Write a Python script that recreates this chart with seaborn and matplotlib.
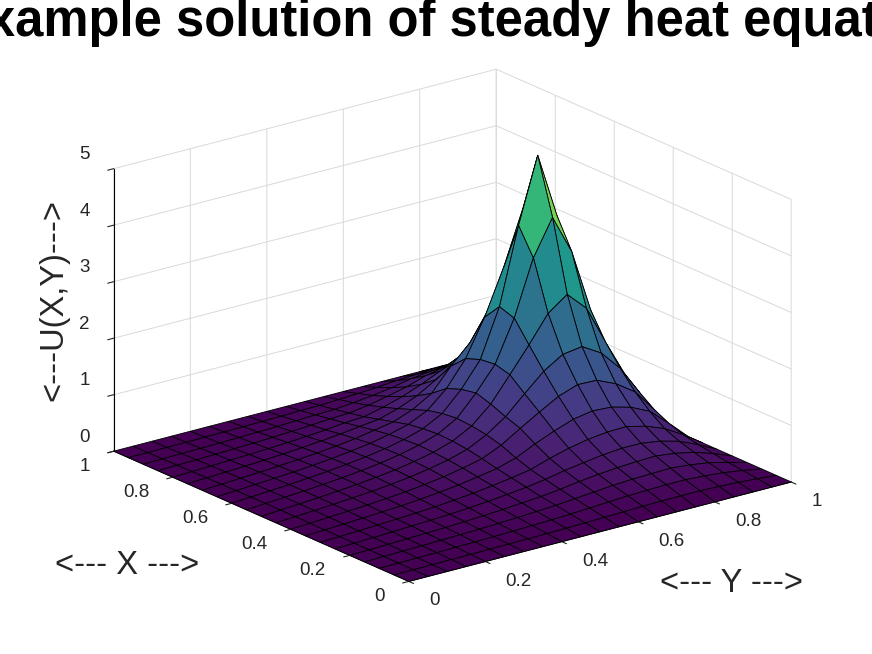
import numpy as np
import matplotlib
matplotlib.use("Agg")
import matplotlib.pyplot as plt
from matplotlib.transforms import ScaledTranslation
import seaborn as sns

grid_x = [i / 20 for i in range(21)]
grid_y = [j / 20 for j in range(21)]
ticks = [0, 0.2, 0.4, 0.6, 0.8, 1]
tick_labels = ["0", "0.2", "0.4", "0.6", "0.8", "1"]
z_ticks = [0, 1, 2, 3, 4, 5]

# temperature, index = X grid line 0..20
u_y00 = [0] * 21
u_y01 = [0,.002,.0045,.007,.009,.011,.013,.016,.018,.02,.021,.022,.021,.02,.017,.015,.011,.008,.005,.0025,0]
u_y02 = [0,.0045,.009,.014,.018,.023,.027,.032,.036,.04,.043,.044,.043,.04,.035,.03,.023,.017,.011,.005,0]
u_y03 = [0,.007,.014,.021,.028,.035,.042,.049,.056,.062,.066,.068,.066,.061,.054,.046,.036,.026,.017,.008,0]
u_y04 = [0,.01,.02,.03,.04,.05,.059,.069,.078,.087,.093,.095,.093,.086,.076,.064,.05,.037,.024,.011,0]
u_y05 = [0,.013,.026,.04,.052,.065,.078,.09,.104,.115,.122,.125,.122,.113,.10,.085,.066,.048,.031,.015,0]
u_y06 = [0,.017,.034,.05,.067,.084,.10,.118,.135,.15,.16,.163,.16,.148,.13,.11,.085,.063,.04,.02,0]
u_y07 = [0,.022,.043,.064,.085,.107,.13,.153,.175,.193,.205,.21,.205,.19,.165,.14,.105,.08,.05,.025,0]
u_y08 = [0,.027,.054,.08,.107,.135,.165,.195,.225,.25,.265,.27,.26,.24,.21,.175,.135,.10,.065,.03,0]
u_y09 = [0,.033,.066,.10,.133,.17,.21,.25,.29,.32,.34,.35,.335,.31,.27,.22,.17,.125,.08,.04,0]
u_y10 = [0,.04,.08,.12,.16,.21,.26,.31,.37,.42,.45,.46,.44,.40,.33,.26,.19,.14,.09,.045,0]
u_y11 = [0,.05,.10,.15,.20,.26,.32,.41,.52,.59,.63,.65,.62,.56,.46,.36,.27,.19,.12,.06,0]
u_y12 = [0,.06,.12,.18,.25,.33,.43,.57,.73,.82,.93,1.01,.96,.86,.66,.50,.37,.26,.16,.08,0]
u_y13 = [0,.07,.14,.21,.29,.38,.52,.71,.93,1.14,1.36,1.43,1.40,1.30,1.05,.70,.50,.34,.21,.10,0]
u_y14 = [0,.075,.15,.23,.32,.43,.59,.83,1.12,1.45,1.80,2.16,2.25,1.95,1.38,.92,.65,.45,.28,.13,0]
u_y15 = [0,.08,.16,.24,.34,.46,.63,.89,1.24,1.66,2.27,3.14,3.6,2.75,1.90,1.25,.82,.52,.32,.15,0]
u_y16 = [0,.08,.16,.25,.35,.46,.64,.87,1.23,1.71,2.52,3.77,4.75,3.7,2.45,1.50,.95,.62,.36,.17,0]
u_y17 = [0,.07,.14,.22,.31,.41,.56,.78,1.08,1.51,2.19,3.08,3.6,2.85,1.95,1.30,.85,.55,.33,.16,0]
u_y18 = [0,.055,.11,.17,.24,.32,.43,.62,.85,1.15,1.50,1.95,2.30,1.80,1.20,.82,.55,.36,.22,.11,0]
u_y19 = [0,.03,.06,.09,.13,.17,.23,.32,.45,.64,.85,1.00,1.08,.92,.62,.42,.28,.19,.11,.05,0]
u_y20 = [0] * 21

Z = np.array([u_y00, u_y01, u_y02, u_y03, u_y04, u_y05, u_y06, u_y07, u_y08, u_y09, u_y10,
              u_y11, u_y12, u_y13, u_y14, u_y15, u_y16, u_y17, u_y18, u_y19, u_y20]).T
X, Y = np.meshgrid(grid_x, grid_y, indexing="ij")

sns.set_theme(style="white")
plt.rcParams["font.family"] = ["Liberation Sans", "DejaVu Sans"]
text_col = "#262626"

fig = plt.figure(figsize=(8.72, 6.54), dpi=100)
ax = fig.add_axes([0.008, -0.052, 1.0, 1.08], projection="3d", proj_type="ortho")
ax.view_init(elev=19.8, azim=-37.5)
ax.set_box_aspect((484, 481.5, 300), zoom=1.026)

cmap = sns.color_palette("viridis", as_cmap=True)
face = cmap(Z[:-1, :-1] / Z.max())
ax.plot_surface(X, Y, Z, facecolors=face, rstride=1, cstride=1, shade=False,
                edgecolor="black", linewidth=0.6, antialiased=True)

ax.set_xlim(1, 0)
ax.set_ylim(0, 1)
ax.set_zlim(0, 5)
ax.set_xticks(ticks, tick_labels, ha="right", va="bottom")
ax.set_yticks(ticks, tick_labels, ha="left", va="bottom")
ax.set_zticks(z_ticks, [str(v) for v in z_ticks])
for axis in (ax.xaxis, ax.yaxis, ax.zaxis):
    axis.set_pane_color((1, 1, 1, 1))
    axis.pane.set_edgecolor((1, 1, 1, 0))
    axis._axinfo["grid"].update(color="#d9d9d9", linewidth=0.7)
    axis._axinfo["tick"].update(inward_factor=0.2, outward_factor=0.0, linewidth={True: 0.8, False: 0.8}, color="black")
    axis.line.set_color("black")
    axis.line.set_linewidth(0.8)
ax.zaxis.set_ticks_position("lower")
ax.tick_params(labelsize=13.5, colors=text_col)
ax.tick_params(axis="x", pad=8.5)
ax.tick_params(axis="y", pad=10)
ax.tick_params(axis="z", pad=3)

# the z tick labels sit above their ticks in the reference
z_label_shift = ScaledTranslation(-1 / 100, 21 / 100, fig.dpi_scale_trans)
_z_major_ticks = ax.zaxis.get_major_ticks


def z_major_ticks(numticks=None):
    z_tick_objs = _z_major_ticks(numticks)
    for tick in z_tick_objs:
        tick.label1.set_transform(ax.transData + z_label_shift)
    return z_tick_objs


ax.zaxis.get_major_ticks = z_major_ticks

fig.text(454 / 872, 0.965, "Example solution of steady heat equation", ha="center", va="center",
         fontsize=36.5, fontweight="bold", color="black")
fig.text(127 / 872, 1 - 566 / 654, "<--- X --->", ha="center", va="center", fontsize=23.5, color=text_col)
fig.text(731 / 872, 1 - 583 / 654, "<--- Y --->", ha="center", va="center", fontsize=23.5, color=text_col)
fig.text(54 / 872, 1 - 300 / 654, "<---U(X,Y)--->", ha="center", va="center", rotation=90, fontsize=23.5, color=text_col)

fig.savefig("out.png", dpi=100)
